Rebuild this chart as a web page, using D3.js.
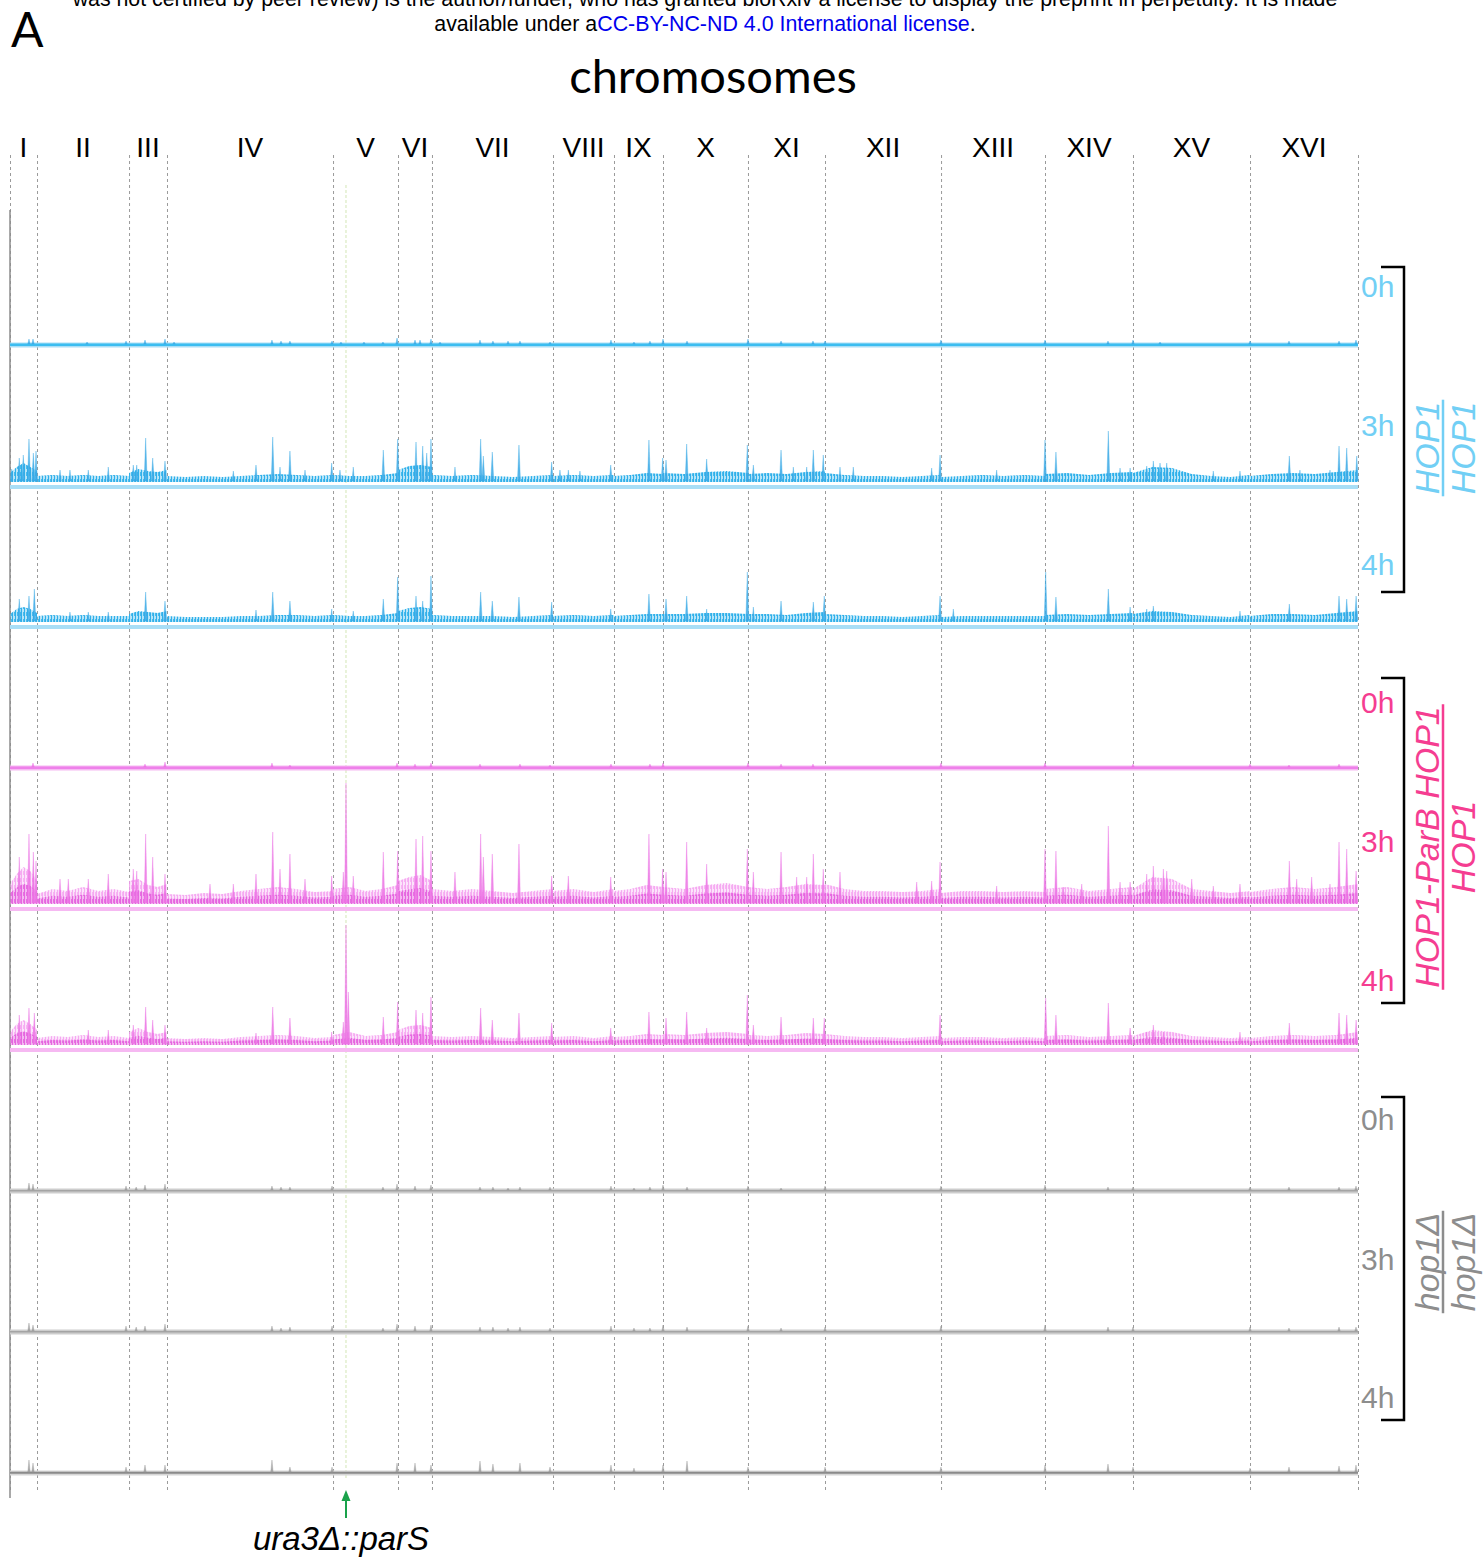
<!DOCTYPE html>
<html>
<head>
<meta charset="utf-8">
<script src="https://cdn.jsdelivr.net/npm/d3@7"></script>
<style>
  body { margin: 0; background: #fff; }
  svg { display: block; }
</style>
</head>
<body>
<div id="chart"></div>
<script>
const chromNames = ["I", "II", "III", "IV", "V", "VI", "VII", "VIII", "IX", "X", "XI", "XII", "XIII", "XIV", "XV", "XVI"];
const chromLengthsKb = [242, 824, 340, 1487, 582, 304, 1084, 546, 439, 761, 690, 1039, 931, 788, 1048, 967];
const timeLabels = ["0h", "3h", "4h"];
const parSKb = 3009; // ura3::parS on chr V, genome coordinate

// noise envelope per chromosome (top of the dense background), then peaks as [genome kb, height]
const blue0hNoise = [2, 2, 2, 2, 2, 2, 2, 2, 2, 2, 2, 2, 2, 2, 2, 2];
const blue0hPeaks = [[170, 6], [206, 6], [690, 3], [1039, 4], [1209, 5], [1388, 6], [1469, 3], [2346, 5], [2427, 4], [2507, 4],
  [2884, 4], [2964, 3], [3170, 3], [3340, 3], [3466, 7], [3627, 5], [3672, 5], [3770, 6], [3851, 3], [4209, 5], [4325, 4],
  [4460, 4], [4567, 4], [4836, 3], [5382, 5], [5588, 3], [5731, 4], [5848, 6], [6063, 4], [6609, 6], [6905, 4], [7191, 4],
  [7299, 4], [8337, 5], [9269, 5], [9833, 4], [10057, 5], [10299, 3], [11105, 4], [11454, 4], [11902, 4], [12054, 5]];

const blue3hNoise = [
  [14, 20, 24, 20, 16], [11, 12, 11, 12, 11, 12, 11], [14, 18, 16, 15, 17], [11, 10, 11, 10, 11, 12, 13, 12, 11, 12],
  [12, 11, 11, 12, 14], [17, 21, 22, 20], [12, 11, 12, 11, 10, 11, 12], [11, 12, 11, 12], [11, 12, 14, 13],
  [14, 13, 15, 16, 14], [13, 14, 13, 15, 16], [14, 12, 11, 11, 10, 11, 12], [10, 11, 12, 11, 12, 11],
  [13, 14, 12, 14, 15], [14, 20, 19, 13, 11, 10, 12], [11, 13, 14, 13, 15, 17]];
const blue3hPeaks = [[15, 18], [83, 29], [119, 32], [170, 48], [209, 34], [233, 36], [448, 17], [537, 17], [701, 17], [880, 20],
  [1104, 22], [1135, 22], [1215, 49], [1278, 29], [1388, 26], [2000, 16], [2203, 22], [2353, 50], [2418, 20], [2507, 36],
  [2642, 17], [2881, 24], [2955, 17], [3074, 20], [3343, 37], [3472, 48], [3636, 45], [3696, 41], [3732, 34], [3770, 48],
  [3985, 20], [4215, 48], [4239, 31], [4319, 35], [4558, 42], [4851, 25], [4925, 17], [5000, 17], [5104, 16], [5380, 22],
  [5722, 47], [5845, 29], [5875, 27], [6060, 43], [6239, 28], [6603, 42], [6657, 22], [6905, 37], [7015, 20], [7135, 20],
  [7194, 37], [7283, 32], [7433, 20], [7552, 20], [8254, 19], [8329, 32], [8836, 17], [9269, 47], [9367, 35], [9836, 56],
  [9941, 19], [10031, 19], [10180, 21], [10239, 26], [10299, 24], [10359, 24], [10776, 16], [11015, 16], [11457, 31],
  [11552, 17], [11821, 17], [11902, 41], [11971, 39], [12061, 31]];

const blue4hNoise = [
  [13, 18, 20, 18, 14], [11, 12, 11, 12, 11, 11, 11], [13, 16, 15, 14, 16], [11, 10, 10, 10, 11, 11, 12, 12, 11, 12],
  [12, 11, 11, 12, 14], [16, 19, 20, 18], [12, 11, 11, 11, 10, 11, 12], [11, 12, 11, 12], [11, 12, 13, 13],
  [13, 13, 14, 14, 13], [13, 13, 12, 14, 15], [13, 12, 11, 11, 10, 11, 12], [10, 11, 11, 11, 11, 11],
  [12, 13, 12, 13, 14], [13, 16, 15, 12, 11, 10, 12], [11, 13, 13, 12, 14, 16]];
const blue4hPeaks = [[83, 28], [170, 31], [218, 38], [537, 15], [701, 15], [880, 15], [1215, 35], [1388, 26], [2203, 17],
  [2353, 35], [2507, 26], [2881, 18], [3074, 16], [3343, 28], [3472, 50], [3636, 31], [3696, 26], [3770, 51], [4215, 35],
  [4319, 26], [4558, 30], [4851, 25], [5380, 18], [5722, 33], [5875, 28], [6060, 31], [6239, 18], [6603, 55], [6657, 20],
  [6905, 26], [7194, 25], [7292, 31], [8329, 31], [8448, 18], [9275, 55], [9367, 30], [9836, 38], [10031, 20], [10180, 18],
  [10239, 21], [11015, 16], [11457, 23], [11902, 31], [11971, 28], [12055, 31]];

const pink0hNoise = [2, 2, 2, 2, 2, 2, 2, 2, 2, 2, 2, 2, 2, 2, 2, 2];
const pink0hPeaks = [[206, 5], [1209, 4], [1388, 6], [2346, 5], [2507, 3], [3466, 5], [3627, 4], [3770, 5], [4209, 4],
  [4567, 4], [4836, 3], [5382, 4], [5731, 4], [5848, 5], [6609, 5], [6905, 4], [7191, 4], [8337, 5], [9269, 5], [10057, 4],
  [11105, 4], [11454, 3], [11902, 4]];

const pink3hNoise = [
  [25, 35, 42, 38, 28], [15, 20, 18, 22, 18, 20, 17], [28, 30, 24, 22, 25], [15, 14, 16, 15, 18, 20, 22, 20, 17, 18],
  [20, 22, 18, 20, 24], [28, 32, 34, 28], [20, 18, 20, 18, 16, 18, 20], [18, 20, 17, 20], [18, 20, 24, 22],
  [22, 20, 24, 26, 22], [22, 20, 22, 25, 24], [25, 20, 18, 18, 17, 18, 20], [16, 18, 18, 17, 18, 17],
  [20, 22, 18, 20, 22], [20, 32, 30, 20, 18, 16, 18], [17, 20, 22, 20, 22, 25]];
const pink3hPeaks = [[83, 52], [170, 75], [209, 57], [233, 48], [448, 30], [522, 30], [701, 30], [880, 35], [1104, 40],
  [1135, 38], [1215, 75], [1278, 52], [1388, 35], [1791, 25], [2000, 25], [2203, 35], [2353, 77], [2418, 40], [2507, 55],
  [2642, 30], [2881, 33], [2985, 37], [3009, 126], [3074, 33], [3343, 57], [3472, 58], [3636, 70], [3696, 73], [3770, 58],
  [3985, 37], [4215, 75], [4239, 52], [4319, 55], [4558, 65], [4851, 33], [5000, 33], [5380, 32], [5722, 75], [5845, 40],
  [5875, 37], [6060, 67], [6239, 45], [6603, 60], [6657, 37], [6905, 57], [7045, 32], [7135, 32], [7194, 55], [7283, 40],
  [7433, 37], [8120, 27], [8254, 28], [8329, 47], [8836, 23], [9269, 60], [9367, 58], [9433, 22], [9598, 25], [9836, 83],
  [9941, 27], [10031, 27], [10180, 35], [10239, 43], [10329, 40], [10359, 38], [10583, 30], [10776, 23], [11015, 25],
  [11457, 48], [11523, 30], [11657, 32], [11821, 25], [11902, 67], [11971, 60], [12055, 38]];

const pink4hNoise = [
  [18, 26, 30, 26, 20], [12, 14, 13, 15, 13, 14, 12], [18, 22, 18, 16, 18], [12, 11, 12, 11, 13, 14, 15, 14, 12, 13],
  [15, 18, 14, 15, 18], [20, 24, 25, 22], [14, 13, 14, 13, 12, 13, 14], [13, 14, 12, 14], [13, 14, 16, 15],
  [16, 15, 17, 18, 16], [15, 14, 15, 17, 16], [16, 14, 13, 13, 12, 13, 14], [12, 13, 13, 12, 13, 12],
  [14, 15, 13, 14, 15], [14, 20, 18, 14, 13, 12, 13], [12, 14, 15, 14, 15, 18]];
const pink4hPeaks = [[83, 35], [170, 42], [218, 37], [701, 20], [880, 20], [1104, 25], [1215, 43], [1278, 30], [1388, 25],
  [2203, 17], [2353, 43], [2507, 32], [2881, 18], [2985, 28], [3009, 125], [3030, 58], [3343, 33], [3472, 48], [3636, 40],
  [3696, 37], [3770, 53], [4215, 42], [4319, 30], [4558, 37], [4851, 27], [5380, 22], [5722, 38], [5875, 32], [6060, 38],
  [6239, 22], [6603, 55], [6657, 25], [6905, 33], [7194, 32], [7292, 32], [8329, 35], [9275, 52], [9367, 35], [9836, 47],
  [10031, 22], [10180, 18], [10239, 25], [10329, 18], [11015, 18], [11457, 27], [11902, 37], [11971, 35], [12055, 30]];

const gray0hNoise = [1, 1, 1, 1, 1, 1, 1, 1, 1, 1, 1, 1, 1, 1, 1, 1];
const gray0hPeaks = [[170, 8], [206, 7], [1039, 5], [1130, 4], [1209, 6], [1388, 7], [2346, 5], [2427, 4], [2507, 4],
  [2884, 5], [3340, 4], [3466, 7], [3627, 5], [3770, 6], [4209, 4], [4325, 4], [4460, 3], [4567, 4], [4836, 4], [5382, 5],
  [5588, 3], [5731, 4], [5848, 6], [6063, 4], [6609, 5], [6905, 3], [7299, 5], [8337, 5], [9269, 6], [9833, 4], [10057, 4],
  [11105, 4], [11454, 4], [11902, 4], [12054, 5]];
const gray3hNoise = [1, 1, 1, 1, 1, 1, 1, 1, 1, 1, 1, 1, 1, 1, 1, 1];
const gray3hPeaks = [[170, 9], [206, 7], [1039, 6], [1130, 5], [1209, 6], [1388, 8], [2346, 6], [2427, 4], [2507, 5],
  [2884, 6], [3340, 4], [3466, 8], [3627, 6], [3770, 7], [4209, 5], [4325, 5], [4460, 4], [4567, 5], [4836, 4], [5382, 6],
  [5588, 4], [5731, 4], [5848, 7], [6063, 5], [6609, 6], [6905, 4], [7299, 5], [8337, 6], [9269, 7], [9833, 5], [10057, 5],
  [11105, 5], [11454, 4], [11902, 5], [12054, 5]];
const gray4hNoise = [1.5, 1.5, 1.5, 1.5, 1.5, 1.5, 1.5, 1.5, 1.5, 1.5, 1.5, 1.5, 1.5, 1.5, 1.5, 1.5];
const gray4hPeaks = [[170, 13], [206, 10], [1039, 6], [1209, 8], [1388, 8], [2346, 13], [2507, 6], [2884, 6], [3466, 10],
  [3627, 10], [3770, 8], [4209, 12], [4325, 9], [4567, 10], [4836, 6], [5382, 8], [5588, 5], [5848, 8], [6063, 12],
  [6609, 6], [7299, 6], [8337, 6], [9269, 8], [9833, 9], [10057, 6], [11105, 5], [11454, 6], [11902, 7], [12054, 8]];

const width = 1483;
const height = 1557;

const svg = d3.select('#chart').append('svg')
  .attr('width', width)
  .attr('height', height)
  .style('font-family', '"Liberation Sans", Arial, sans-serif');

const starts = Array.from(d3.cumsum([0, ...chromLengthsKb]));
const genomeKb = starts[starts.length - 1];
const x = d3.scaleLinear().domain([0, genomeKb]).range([10, 1358]);

// hatch patterns give the dense background its ragged look
const defs = svg.append('defs');
function hatch(id, color, op) {
  const p = defs.append('pattern').attr('id', id)
    .attr('patternUnits', 'userSpaceOnUse').attr('width', 3).attr('height', 7);
  p.append('rect').attr('width', 3).attr('height', 7).attr('fill', color).attr('fill-opacity', op * 0.35);
  p.append('rect').attr('x', 0).attr('y', 0).attr('width', 1).attr('height', 7).attr('fill', color).attr('fill-opacity', op);
  p.append('rect').attr('x', 2).attr('y', 3).attr('width', 1).attr('height', 4).attr('fill', color).attr('fill-opacity', op * 0.8);
}
hatch('hBlue', '#2fb0ea', 1);
hatch('hPink', '#e566df', 1);
hatch('hPinkLight', '#f39bef', 0.8);

// header (clipped preprint notice)
function squeeze(sel, target) {
  const w = sel.node().getComputedTextLength();
  const cx = +sel.attr('x');
  sel.attr('transform', `translate(${cx},0) scale(${target / w},1) translate(${-cx},0)`);
}
const head1 = svg.append('text').attr('x', 705).attr('y', 6).attr('text-anchor', 'middle')
  .style('font-size', '22px').attr('fill', '#000')
  .text('was not certified by peer review) is the author/funder, who has granted bioRxiv a license to display the preprint in perpetuity. It is made');
squeeze(head1, 1266);
const head2 = svg.append('text').attr('x', 705).attr('y', 31).attr('text-anchor', 'middle')
  .style('font-size', '22px').attr('fill', '#000');
head2.append('tspan').text('available under a');
head2.append('tspan').attr('fill', '#0000ee').text('CC-BY-NC-ND 4.0 International license');
head2.append('tspan').text('.');
squeeze(head2, 542);

svg.append('text').attr('x', 11).attr('y', 47)
  .style('font-family', 'Lato, "Open Sans", sans-serif').style('font-size', '48px')
  .text('A');

svg.append('text').attr('x', 713).attr('y', 93).attr('text-anchor', 'middle')
  .style('font-family', 'Lato, "Open Sans", sans-serif').style('font-size', '47px')
  .text('chromosomes');

// chromosome labels and boundaries
svg.append('g').selectAll('text').data(chromNames).join('text')
  .attr('x', (d, i) => x(starts[i] + chromLengthsKb[i] / 2))
  .attr('y', 157)
  .attr('text-anchor', 'middle')
  .style('font-size', '28px')
  .text(d => d);

svg.append('g').selectAll('line').data(starts).join('line')
  .attr('x1', d => x(d) + 0.5).attr('x2', d => x(d) + 0.5)
  .attr('y1', 155).attr('y2', 1490)
  .attr('stroke', '#9a9a9a').attr('stroke-width', 1)
  .attr('stroke-dasharray', '3,3');

svg.append('line')
  .attr('x1', x(parSKb)).attr('x2', x(parSKb))
  .attr('y1', 185).attr('y2', 1480)
  .attr('stroke', '#d3e6b5').attr('stroke-width', 1)
  .attr('stroke-dasharray', '3,2');

svg.append('line')
  .attr('x1', 10).attr('x2', 10).attr('y1', 210).attr('y2', 1498)
  .attr('stroke', '#8c8c8c').attr('stroke-width', 1.5);

// tracks
const blueStyle = { label: '#72cff5', line: '#3cbdf0', hatch: 'url(#hBlue)', halo: null, spike: '#39a9e6', band: '#a9def6' };
const pinkStyle = { label: '#f53d91', line: '#ee80ea', hatch: 'url(#hPink)', halo: 'url(#hPinkLight)', spike: '#ec74e4', band: '#f6b9f2' };
const grayStyle = { label: '#8d8d8d', line: '#a4a4a4', hatch: null, halo: null, spike: '#9c9c9c', band: '#cdcdcd' };

const groups = [
  {
    style: blueStyle, top: 'HOP1', bottom: 'HOP1', bracket: [267, 592], mid: 448,
    labelY: [297, 436, 575],
    tracks: [
      { base: 345, noise: blue0hNoise, peaks: blue0hPeaks, floor: 0, flat: true },
      { base: 487, noise: blue3hNoise, peaks: blue3hPeaks, floor: 5 },
      { base: 627, noise: blue4hNoise, peaks: blue4hPeaks, floor: 5 }
    ]
  },
  {
    style: pinkStyle, top: 'HOP1-ParB HOP1', bottom: 'HOP1', bracket: [678, 1003], mid: 847,
    labelY: [713, 852, 991],
    tracks: [
      { base: 768, noise: pink0hNoise, peaks: pink0hPeaks, floor: 0, flat: true },
      { base: 909, noise: pink3hNoise, peaks: pink3hPeaks, floor: 5 },
      { base: 1050, noise: pink4hNoise, peaks: pink4hPeaks, floor: 5 }
    ]
  },
  {
    style: grayStyle, top: 'hop1\u0394', bottom: 'hop1\u0394', bracket: [1097, 1420], mid: 1262,
    labelY: [1130, 1270, 1408],
    tracks: [
      { base: 1191, noise: gray0hNoise, peaks: gray0hPeaks, floor: 0, flat: true },
      { base: 1332, noise: gray3hNoise, peaks: gray3hPeaks, floor: 0, flat: true },
      { base: 1473, noise: gray4hNoise, peaks: gray4hPeaks, floor: 0, flat: true, dark: true }
    ]
  }
];

function noisePoints(noise) {
  const pts = [];
  noise.forEach((v, i) => {
    const s = starts[i], len = chromLengthsKb[i];
    if (typeof v === 'number') {
      pts.push({ kb: s, v: v }, { kb: s + len, v: v });
    } else {
      v.forEach((val, j) => pts.push({ kb: s + len * j / (v.length - 1), v: val }));
    }
  });
  return pts;
}

groups.forEach(g => {
  const st = g.style;
  g.tracks.forEach((t, ti) => {
    const y = d3.scaleLinear().domain([0, 130]).range([t.base, t.base - 130]);
    const tg = svg.append('g');
    const pts = noisePoints(t.noise);

    if (t.flat) {
      // flat samples: the signal lies on the baseline
      tg.append('line')
        .attr('x1', x(0)).attr('x2', x(genomeKb))
        .attr('y1', y(0)).attr('y2', y(0))
        .attr('stroke', t.dark ? '#d6d6d6' : st.band)
        .attr('stroke-width', 5);
      tg.append('path')
        .datum(pts)
        .attr('d', d3.area().x(d => x(d.kb)).y0(y(-d3.min(pts, d => d.v) / 2)).y1(d => y(d.v / 2 + 0.5)))
        .attr('fill', t.dark ? '#8a8a8a' : st.line);
    } else {
      tg.append('line')
        .attr('x1', x(0)).attr('x2', x(genomeKb))
        .attr('y1', y(0)).attr('y2', y(0))
        .attr('stroke', st.band)
        .attr('stroke-width', 4);
      if (st.halo) {
        tg.append('path')
          .datum(pts)
          .attr('d', d3.area().x(d => x(d.kb)).y0(y(t.floor)).y1(d => y(d.v)))
          .attr('fill', st.halo);
        tg.append('path')
          .datum(pts)
          .attr('d', d3.area().x(d => x(d.kb)).y0(y(t.floor)).y1(d => y(t.floor + (d.v - t.floor) * 0.55)))
          .attr('fill', st.hatch);
      } else {
        tg.append('path')
          .datum(pts)
          .attr('d', d3.area().x(d => x(d.kb)).y0(y(t.floor)).y1(d => y(d.v)))
          .attr('fill', st.hatch);
      }
    }

    tg.selectAll('path.spike').data(t.peaks).join('path')
      .attr('class', 'spike')
      .attr('d', p => {
        const px = x(p[0]);
        const w = p[1] > 20 ? 1.5 : 1.2;
        return `M${px - w},${y(t.floor + 1)}L${px},${y(p[1])}L${px + w},${y(t.floor + 1)}Z`;
      })
      .attr('fill', st.spike)
      .attr('fill-opacity', 0.85)
      .attr('stroke', st.spike)
      .attr('stroke-width', 0.5)
      .attr('stroke-opacity', 0.7);

    svg.append('text')
      .attr('x', 1361).attr('y', g.labelY[ti])
      .style('font-size', '30px')
      .attr('fill', st.label)
      .text(timeLabels[ti]);
  });

  // bracket
  svg.append('path')
    .attr('d', `M1381,${g.bracket[0]}H1404V${g.bracket[1]}H1381`)
    .attr('fill', 'none').attr('stroke', '#000').attr('stroke-width', 2.5);

  // genotype, rotated
  const topText = svg.append('text')
    .attr('transform', `translate(1439,${g.mid}) rotate(-90)`)
    .attr('text-anchor', 'middle')
    .style('font-size', '34px').style('font-style', 'italic')
    .attr('fill', st.label)
    .text(g.top);
  const len = topText.node().getComputedTextLength();
  svg.append('line')
    .attr('x1', 1443).attr('x2', 1443)
    .attr('y1', g.mid - len / 2 - 2).attr('y2', g.mid + len / 2 + 2)
    .attr('stroke', st.label).attr('stroke-width', 2.5);
  svg.append('text')
    .attr('transform', `translate(1475,${g.mid}) rotate(-90)`)
    .attr('text-anchor', 'middle')
    .style('font-size', '34px').style('font-style', 'italic')
    .attr('fill', st.label)
    .text(g.bottom);
});

// parS marker
const xp = x(parSKb);
svg.append('line')
  .attr('x1', xp).attr('x2', xp).attr('y1', 1518).attr('y2', 1498)
  .attr('stroke', '#1aa24b').attr('stroke-width', 2);
svg.append('path')
  .attr('d', `M${xp - 4.5},${1501}L${xp},${1490}L${xp + 4.5},${1501}Z`)
  .attr('fill', '#1aa24b');
svg.append('text')
  .attr('x', 341).attr('y', 1550)
  .attr('text-anchor', 'middle')
  .style('font-size', '33px').style('font-style', 'italic')
  .text('ura3\u0394::parS');
</script>
</body>
</html>
